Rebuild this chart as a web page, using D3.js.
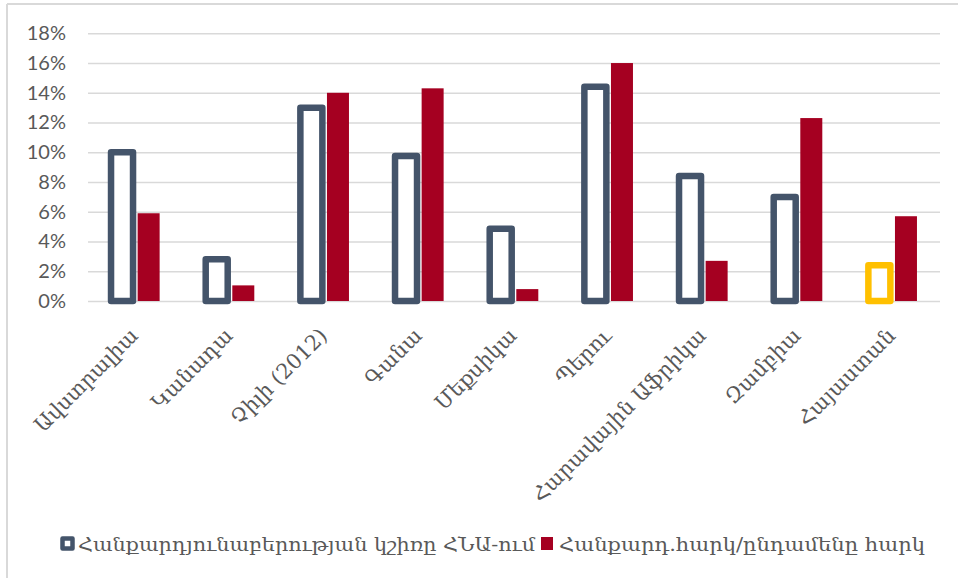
<!DOCTYPE html>
<html>
<head>
<meta charset="utf-8">
<script src="https://cdn.jsdelivr.net/npm/d3@7"></script>
<style>
  html, body { margin: 0; padding: 0; background: #fff; }
  svg { display: block; }
</style>
</head>
<body>
<svg id="chart" width="958" height="578"></svg>
<script>
// Countries on the x axis
const categories = ["Ավստրալիա", "Կանադա", "Չիլի (2012)", "Գանա", "Մեքսիկա", "Պերու", "Հարավային Աֆրիկա", "Զամբիա", "Հայաստան"];
// Mining share of GDP, %
const miningShare = [10.0, 2.8, 13.0, 9.75, 4.85, 14.4, 8.4, 7.0, 2.4];
// Mining taxes / total taxes, %
const miningTax = [5.9, 1.05, 14.0, 14.3, 0.8, 16.0, 2.7, 12.3, 5.7];
// Series names for the legend
const seriesNames = ["Հանքարդյունաբերության կշիռը ՀՆԱ-ում", "Հանքարդ.հարկ/ընդամենը հարկ"];
// Y axis ticks, %
const yTicks = [0, 2, 4, 6, 8, 10, 12, 14, 16, 18];

const outlineColor = "#44546a";
const highlightColor = "#ffc000";
const taxColor = "#a50021";
const textColor = "#595959";
const gridColor = "#d9d9d9";
const armFont = "'DejaVu Serif', serif";
const numFont = "Lato, 'Open Sans', sans-serif";

const svg = d3.select("#chart");

// chart frame (top and left edges)
svg.append("line").attr("x1", 7).attr("x2", 958).attr("y1", 4).attr("y2", 4)
  .attr("stroke", gridColor).attr("stroke-width", 2);
svg.append("line").attr("x1", 7).attr("x2", 7).attr("y1", 4).attr("y2", 578)
  .attr("stroke", gridColor).attr("stroke-width", 2);

const plot = { left: 88, right: 940, top: 33.3, bottom: 301 };

const y = d3.scaleLinear().domain([0, 18]).range([plot.bottom, plot.top]);
const x = d3.scaleBand().domain(categories).range([plot.left, plot.right]).padding(0);

// two bars per group, 22px wide, centers about 26.6px apart
const step = 26.6, barW = 22;
const pIn = 1 - barW / step;
const pOut = (x.bandwidth() / step - 2 + pIn) / 2;
const xs = d3.scaleBand().domain(["share", "tax"]).range([0, x.bandwidth()])
  .paddingInner(pIn).paddingOuter(pOut);

// gridlines and y labels
const yAxis = d3.axisLeft(y).tickValues(yTicks).tickSize(-(plot.right - plot.left))
  .tickPadding(22).tickFormat(d => d + "%");
const gy = svg.append("g").attr("transform", `translate(${plot.left},0)`).call(yAxis);
gy.select(".domain").remove();
gy.selectAll(".tick line").attr("stroke", gridColor).attr("stroke-width", 1.5);
gy.selectAll(".tick text").attr("fill", textColor)
  .style("font-family", numFont).style("font-size", "20px");

// mining-share bars: outlined, white inside
const groups = svg.append("g");
groups.selectAll("rect.share").data(categories).join("rect")
  .attr("class", "share")
  .attr("x", d => x(d) + xs("share"))
  .attr("width", xs.bandwidth())
  .attr("y", (d, i) => y(miningShare[i]))
  .attr("height", (d, i) => y(0) - y(miningShare[i]))
  .attr("fill", "#fff")
  .attr("stroke", (d, i) => i === categories.length - 1 ? highlightColor : outlineColor)
  .attr("stroke-width", 6.5)
  .attr("stroke-linejoin", "round");

// mining-tax bars: solid
groups.selectAll("rect.tax").data(categories).join("rect")
  .attr("class", "tax")
  .attr("x", d => x(d) + xs("tax"))
  .attr("width", xs.bandwidth())
  .attr("y", (d, i) => y(miningTax[i]))
  .attr("height", (d, i) => y(0) - y(miningTax[i]))
  .attr("fill", taxColor);

// rotated category labels
const xAxis = d3.axisBottom(x).tickSize(0).tickPadding(0);
const gx = svg.append("g").attr("transform", `translate(0,${plot.bottom})`).call(xAxis);
gx.select(".domain").remove();
gx.selectAll(".tick text")
  .attr("fill", textColor)
  .style("font-family", armFont).style("font-size", "21px")
  .attr("text-anchor", "end")
  .attr("y", 0).attr("dy", 0)
  .attr("transform", "translate(4,36) rotate(-45)");

// legend
const lg = svg.append("g");
lg.append("rect").attr("x", 62.5).attr("y", 538.5).attr("width", 10).attr("height", 10)
  .attr("fill", "#fff").attr("stroke", outlineColor).attr("stroke-width", 4.5)
  .attr("stroke-linejoin", "round");
lg.append("text").attr("x", 78).attr("y", 551).text(seriesNames[0])
  .attr("fill", textColor).style("font-family", armFont).style("font-size", "19px")
  .attr("textLength", 457).attr("lengthAdjust", "spacingAndGlyphs");
lg.append("rect").attr("x", 541).attr("y", 537).attr("width", 12).attr("height", 13)
  .attr("fill", taxColor);
lg.append("text").attr("x", 559).attr("y", 551).text(seriesNames[1])
  .attr("fill", textColor).style("font-family", armFont).style("font-size", "19px")
  .attr("textLength", 366).attr("lengthAdjust", "spacingAndGlyphs");
</script>
</body>
</html>
